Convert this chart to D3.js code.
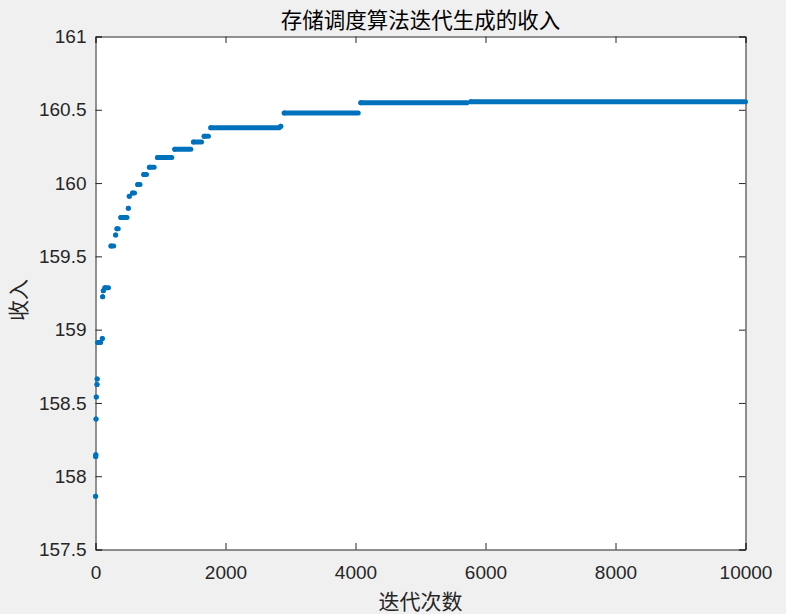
<!DOCTYPE html>
<html>
<head>
<meta charset="utf-8">
<script src="https://cdn.jsdelivr.net/npm/d3@7"></script>
<style>
  html, body { margin: 0; padding: 0; background: #f0f0f0; }
  svg { display: block; }
</style>
</head>
<body>
<svg id="chart" width="786" height="614"></svg>
<script>
// ---- Data ----
const titleText = "存储调度算法迭代生成的收入";
const xLabelText = "迭代次数";
const yLabelText = "收入";

// Each step of the best-so-far revenue: first iteration, last iteration, revenue
const stepStart = [1, 3, 5, 8, 12, 23, 25, 34, 105, 110, 120, 145, 238, 310, 330, 390, 505, 520, 570, 650, 743, 830, 954, 1220, 1508, 1672, 1774, 2850, 2903, 4082, 5774];
const stepEnd   = [1, 3, 5, 8, 12, 23, 25, 80, 105, 110, 120, 200, 280, 310, 350, 485, 505, 520, 600, 685, 785, 903, 1174, 1466, 1631, 1738, 2826, 2850, 4042, 5715, 10000];
const revenue   = [157.863, 158.135, 158.147, 158.39, 158.54, 158.626, 158.664, 158.912, 158.939, 159.225, 159.266, 159.286, 159.57, 159.645, 159.688, 159.765, 159.829, 159.91, 159.933, 159.99, 160.058, 160.108, 160.174, 160.23, 160.28, 160.319, 160.378, 160.387, 160.478, 160.548, 160.555];

const xTicks = [0, 2000, 4000, 6000, 8000, 10000];
const yTicks = [157.5, 158, 158.5, 159, 159.5, 160, 160.5, 161];
const xDomain = [0, 10000];
const yDomain = [157.5, 161];

// ---- Layout ----
const plotLeft = 95.5, plotRight = 745.5, plotTop = 36.5, plotBottom = 549.5;
const axisColor = "#262626";
const markColor = "#0072bd";
const numFont = "'Liberation Sans', Arial, sans-serif";
const cjkFont = "'Noto Sans CJK SC', sans-serif";

const svg = d3.select("#chart");
svg.append("rect").attr("width", 786).attr("height", 614).attr("fill", "#f0f0f0");

const x = d3.scaleLinear().domain(xDomain).range([plotLeft, plotRight]);
const y = d3.scaleLinear().domain(yDomain).range([plotBottom, plotTop]);

// axes background
svg.append("rect")
  .attr("x", plotLeft).attr("y", plotTop)
  .attr("width", plotRight - plotLeft).attr("height", plotBottom - plotTop)
  .attr("fill", "#ffffff");

const tickLen = 6.5;

const gx = svg.append("g").attr("transform", `translate(0,${plotBottom})`)
  .call(d3.axisBottom(x).tickValues(xTicks).tickSize(-tickLen).tickPadding(16).tickFormat(d3.format("d")));
const gxt = svg.append("g").attr("transform", `translate(0,${plotTop})`)
  .call(d3.axisTop(x).tickValues(xTicks).tickSize(-tickLen).tickFormat(""));
const gy = svg.append("g").attr("transform", `translate(${plotLeft},0)`)
  .call(d3.axisLeft(y).tickValues(yTicks).tickSize(-tickLen).tickPadding(9).tickFormat(d => String(d)));
const gyr = svg.append("g").attr("transform", `translate(${plotRight},0)`)
  .call(d3.axisRight(y).tickValues(yTicks).tickSize(-tickLen).tickFormat(""));

[gx, gxt, gy, gyr].forEach(g => {
  g.select(".domain").attr("stroke", axisColor).attr("stroke-width", 1);
  g.selectAll(".tick line").attr("stroke", axisColor).attr("stroke-width", 1);
  g.selectAll(".tick text")
    .attr("fill", axisColor)
    .style("font-family", numFont)
    .style("font-size", "19px");
});

// data marks: each step is a run of dots drawn as a round-capped thick line
const steps = revenue.map((v, i) => ({ s: stepStart[i], e: stepEnd[i], v }));
const marks = svg.append("g");
marks.selectAll("line.step").data(steps).join("line")
  .attr("class", "step")
  .attr("x1", d => x(d.s)).attr("x2", d => x(d.e))
  .attr("y1", d => y(d.v)).attr("y2", d => y(d.v))
  .attr("stroke", markColor).attr("stroke-width", 5)
  .attr("stroke-linecap", "round");
marks.selectAll("circle.end").data(steps).join("circle")
  .attr("class", "end")
  .attr("cx", d => x(d.s)).attr("cy", d => y(d.v)).attr("r", 2.5)
  .attr("fill", markColor);

// title
svg.append("text")
  .attr("x", (plotLeft + plotRight) / 2).attr("y", 28)
  .attr("text-anchor", "middle")
  .attr("fill", "#000")
  .style("font-family", cjkFont).style("font-size", "21.5px")
  .text(titleText);

// x label
svg.append("text")
  .attr("x", (plotLeft + plotRight) / 2).attr("y", 609)
  .attr("text-anchor", "middle")
  .attr("fill", axisColor)
  .style("font-family", cjkFont).style("font-size", "21px")
  .text(xLabelText);

// y label
svg.append("text")
  .attr("transform", `translate(26,${(plotTop + plotBottom) / 2 + 7}) rotate(-90)`)
  .attr("text-anchor", "middle")
  .attr("fill", axisColor)
  .style("font-family", cjkFont).style("font-size", "21px")
  .text(yLabelText);
</script>
</body>
</html>
